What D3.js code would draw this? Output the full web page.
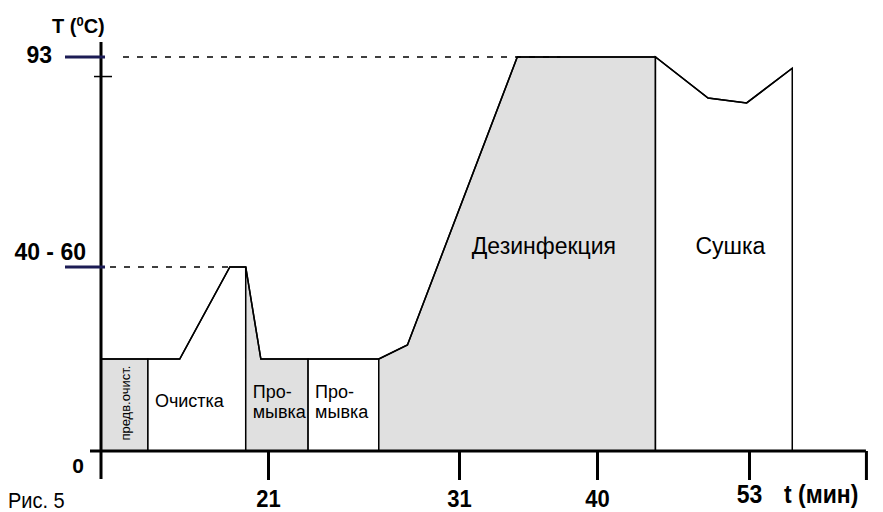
<!DOCTYPE html>
<html>
<head>
<meta charset="utf-8">
<script src="https://cdn.jsdelivr.net/npm/d3@7"></script>
<style>
    body { margin: 0; background: #fff; }
    text { font-family: Arial, "Liberation Sans", sans-serif; }
</style>
</head>
<body>
<svg id="chart" width="883" height="512"></svg>
<script>
// Temperature curve: time [min], temperature [°C]
const curveTime = [0, 5.9, 9.9, 16.2, 18.2, 20.1, 23.1, 26.8, 28.3, 34.8, 45.0, 49.5, 52.8, 56.7];
const curveTemp = [25, 25, 25, 50, 50, 25, 25, 25, 28.8, 93, 93, 84.6, 83.6, 90.7];

// Stages of the cycle
const stageStart  = [0, 5.9, 18.2, 23.1, 26.8, 45.0];
const stageEnd    = [5.9, 18.2, 23.1, 26.8, 45.0, 56.7];
const stageShaded = [true, false, true, false, true, false];
const stageLabels = [["предв.очист."], ["Очистка"], ["Про-", "мывка"], ["Про-", "мывка"], ["Дезинфекция"], ["Сушка"]];

// Axes
const xTicks = [21, 31, 40, 53];
const xMax = 63;
const yTicks = [0, 50, 93];
const yTickLabels = ["0", "40 - 60", "93"];
const yMinor = [89];

// Dashed guides: level and where they end
const guideTemp = [50, 93];
const guideEnd = [16.2, 37.6];

const svg = d3.select("#chart");

// the drawing is schematic, so the scales are piecewise
const x = d3.scaleLinear()
    .domain([0, 21, 31, 40, 53])
    .range([101, 268, 459, 597, 749]);
const y = d3.scaleLinear()
    .domain([0, 50, 93])
    .range([451, 267, 57]);

const points = curveTime.map((t, i) => ({t, v: curveTemp[i]}));

// Stage areas under the curve
stageStart.forEach((s, i) => {
    const e = stageEnd[i];
    const top = points.filter(p => p.t >= s && p.t <= e);
    const poly = [{t: s, v: 0}, ...top, {t: e, v: 0}];
    svg.append("path")
        .attr("d", d3.line().x(d => x(d.t)).y(d => y(d.v))(poly) + "Z")
        .attr("fill", stageShaded[i] ? "#e0e0e0" : "#fff")
        .attr("stroke", "#000")
        .attr("stroke-width", 1.5);
});

// Curve on top
svg.append("path")
    .datum(points)
    .attr("fill", "none")
    .attr("stroke", "#000")
    .attr("stroke-width", 1.5)
    .attr("d", d3.line().x(d => x(d.t)).y(d => y(d.v)));

// Stage labels
const lab = svg.append("g").attr("font-size", 18).attr("fill", "#000");
stageLabels.forEach((lines, i) => {
    const x0 = x(stageStart[i]), x1 = x(stageEnd[i]);
    if (i === 0) {
        lab.append("text")
            .attr("transform", `translate(${(x0 + x1) / 2 + 6},${y(13)}) rotate(-90)`)
            .attr("text-anchor", "middle")
            .attr("font-size", 13)
            .text(lines[0]);
        return;
    }
    let tx = x0 + 7, ty = y(12), size = 18;
    if (i === 2 || i === 3) { ty = y(14.4); }
    if (i === 4) { tx = x0 + 93; ty = y(52.7); size = 23; }
    if (i === 5) { tx = x0 + 40; ty = y(52.7); size = 23; }
    const t = lab.append("text").attr("font-size", size);
    lines.forEach((l, k) => {
        t.append("tspan").attr("x", tx).attr("y", ty + k * 20).text(l);
    });
});

// Dashed guides
guideTemp.forEach((v, i) => {
    svg.append("line")
        .attr("x1", x(0) + (v === 93 ? 22 : 9)).attr("x2", x(guideEnd[i]))
        .attr("y1", y(v)).attr("y2", y(v))
        .attr("stroke", "#000")
        .attr("stroke-width", 1.5)
        .attr("stroke-dasharray", "6,8");
});

// X axis
const xAxis = svg.append("g")
    .attr("transform", `translate(0,${y(0)})`)
    .call(d3.axisBottom(x)
        .tickValues([...xTicks, xMax])
        .tickSize(29)
        .tickFormat(d => d === xMax ? "" : d));
xAxis.select(".domain").remove();
xAxis.selectAll(".tick line").attr("stroke", "#000").attr("stroke-width", 3);
xAxis.selectAll(".tick text")
    .attr("font-family", "Arial, 'Liberation Sans', sans-serif")
    .attr("font-size", d => d === 53 ? 23 : 22)
    .attr("font-weight", "bold")
    .attr("fill", "#000")
    .attr("y", 0).attr("dy", 0)
    .attr("transform", d => `translate(0,${d === 53 ? 52 : 56}) scale(1,1.12)`);
xAxis.append("line")
    .attr("x1", x(0) - 11).attr("x2", x(xMax))
    .attr("y1", 0).attr("y2", 0)
    .attr("stroke", "#000")
    .attr("stroke-width", 3);

// Y axis
svg.append("line")
    .attr("x1", x(0)).attr("x2", x(0))
    .attr("y1", 42).attr("y2", y(0) + 28)
    .attr("stroke", "#000")
    .attr("stroke-width", 3);

yTicks.forEach((v, i) => {
    if (v > 0) {
        svg.append("line")
            .attr("x1", x(0) - 36).attr("x2", x(0) + 4)
            .attr("y1", y(v)).attr("y2", y(v))
            .attr("stroke", "#1c1c55")
            .attr("stroke-width", 3);
    }
    let lx = x(0) - 17, ly = y(v) + 22, size = 21;
    if (v === 50) { lx = x(0) - 15; ly = y(v) - 7; size = 23; }
    if (v === 93) { lx = x(0) - 49; ly = y(v) + 6; size = 23; }
    svg.append("text")
        .attr("x", lx).attr("y", ly)
        .attr("text-anchor", "end")
        .attr("font-size", size)
        .attr("font-weight", "bold")
        .text(yTickLabels[i]);
});

yMinor.forEach(v => {
    svg.append("line")
        .attr("x1", x(0) - 7).attr("x2", x(0) + 11)
        .attr("y1", y(v)).attr("y2", y(v))
        .attr("stroke", "#000")
        .attr("stroke-width", 1.5);
});

// Axis titles
const yTitle = svg.append("text")
    .attr("x", 52).attr("y", 33)
    .attr("font-size", 20)
    .attr("font-weight", "bold");
yTitle.append("tspan").text("T (");
yTitle.append("tspan").attr("font-size", 13).attr("dy", -7).text("0");
yTitle.append("tspan").attr("dy", 7).text("C)");

svg.append("text")
    .attr("transform", "translate(784,503) scale(1,1.12)")
    .attr("font-size", 23)
    .attr("font-weight", "bold")
    .text("t (мин)");

svg.append("text")
    .attr("transform", "translate(8,508) scale(1,1.12)")
    .attr("font-size", 20)
    .text("Рис. 5");
</script>
</body>
</html>
